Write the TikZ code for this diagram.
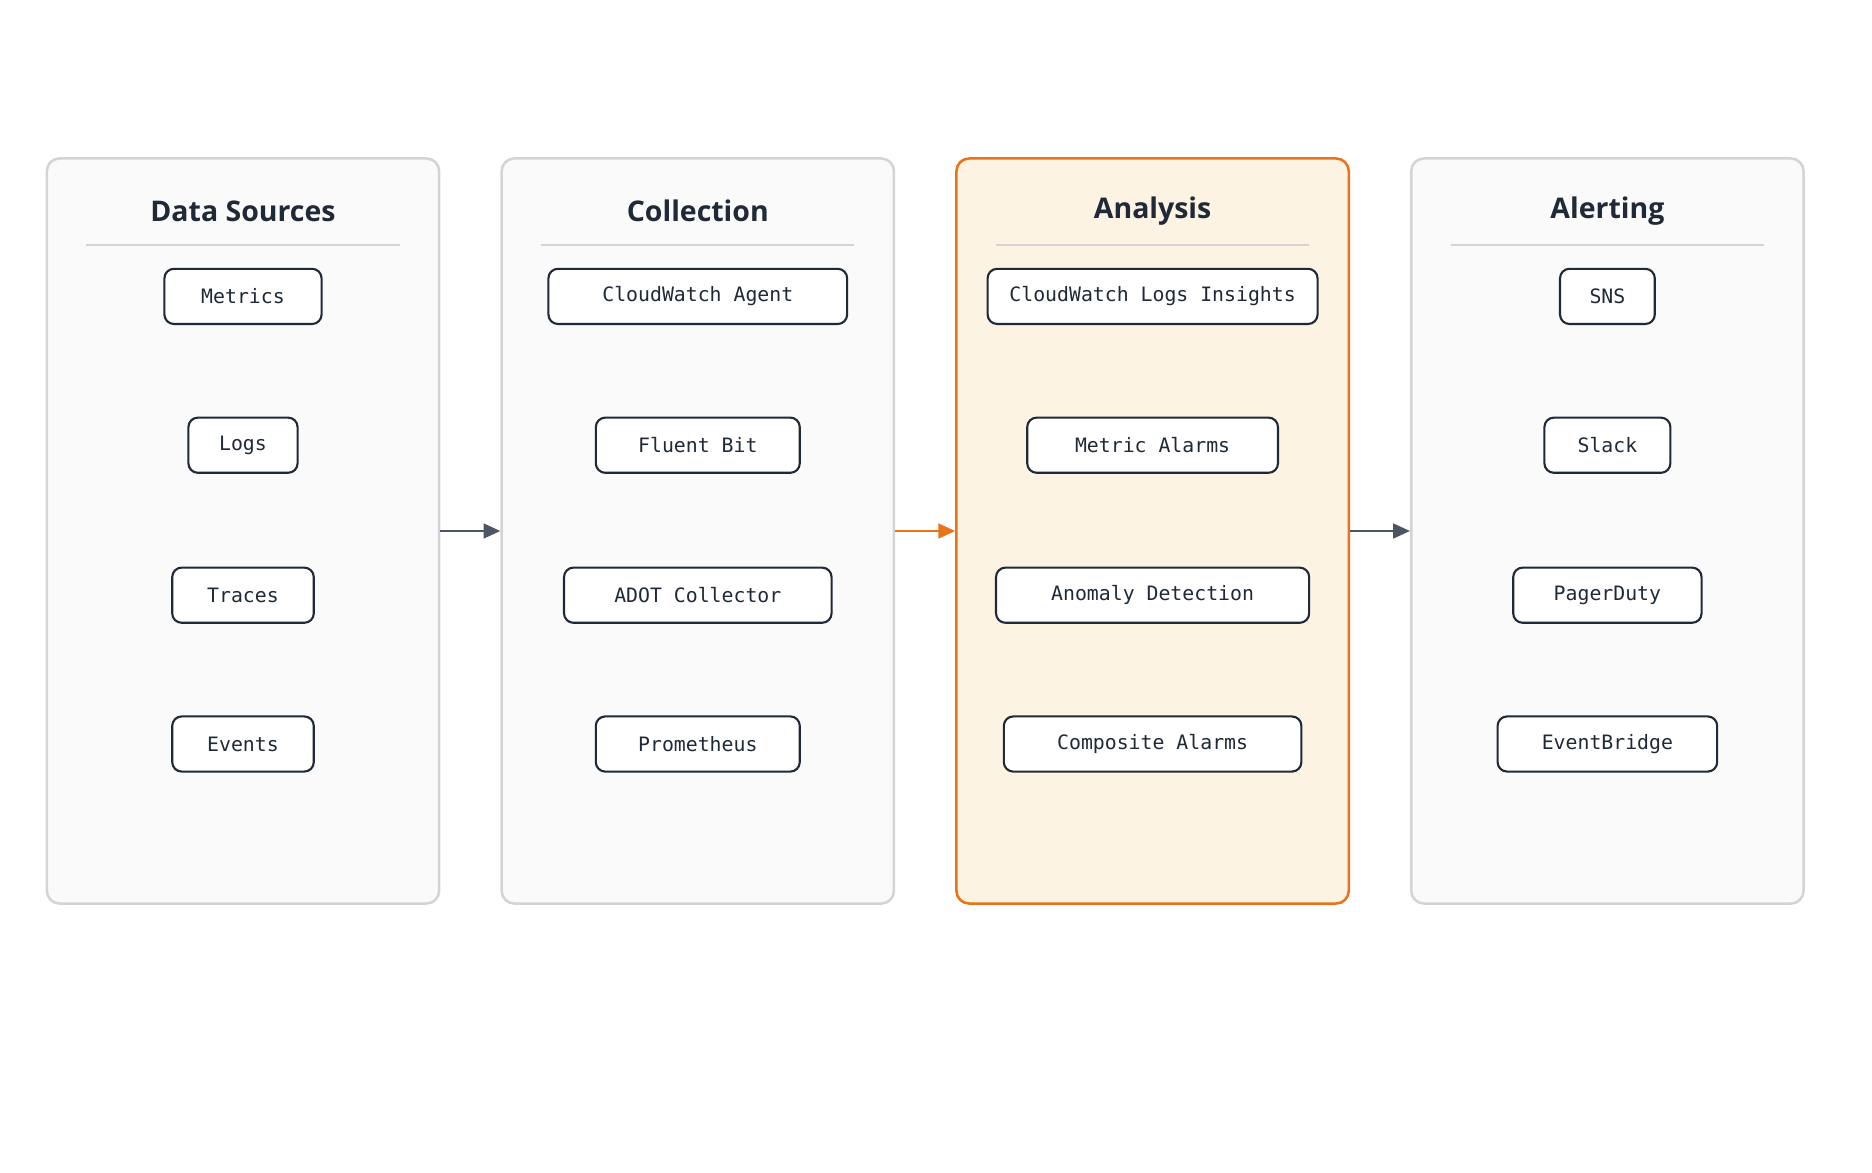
\documentclass[tikz,border=0pt]{standalone}
\usepackage{fontspec}
\setmainfont{Open Sans}
\newfontfamily\boxfont{DejaVu Sans Mono}
\usetikzlibrary{arrows.meta, positioning}
\definecolor{inkdark}{HTML}{1F2937}
\definecolor{panelfill}{HTML}{FAFAFA}
\definecolor{paneledge}{HTML}{D4D4D4}
\definecolor{hotfill}{HTML}{FDF3E3}
\definecolor{hotedge}{HTML}{E8731A}
\definecolor{flowgrey}{HTML}{4B5563}
\begin{document}
\begin{tikzpicture}[
      x=0.02cm, y=-0.02cm,
      panel/.style={draw=paneledge,line width=1.2pt,fill=panelfill,rounded corners=6pt,
        minimum width=6.54cm,minimum height=12.42cm,inner sep=0pt},
      hot panel/.style={panel,draw=hotedge,fill=hotfill},
      title/.style={font=\bfseries\fontsize{13.5}{16}\selectfont,text=inkdark},
      rule/.style={paneledge,line width=0.8pt},
      item/.style={draw=inkdark,line width=1pt,fill=white,rounded corners=4.5pt,
        minimum height=0.92cm,inner sep=0pt,text=inkdark,font=\boxfont\fontsize{9.4}{11}\selectfont},
      flow/.style={-{Triangle[length=8pt,width=7pt]},line width=1.2pt,flowgrey},
      hot flow/.style={flow,hotedge}
      ]
      \useasboundingbox (0,0) rectangle (1560,977);
      % panels
      \node [panel] (sources) at (202.5,442.5) {};
      \node [panel] (collect) at (581.5,442.5) {};
      \node [hot panel] (analysis) at (960.5,442.5) {};
      \node [panel] (alerting) at (1339.5,442.5) {};
      % titles and rules
      \foreach \p/\t/\x in {sources/Data Sources/202.5,collect/Collection/581.5,
          analysis/Analysis/960.5,alerting/Alerting/1339.5} {
          \node [title] (\p-title) at (\x,176) {\t};
          \draw [rule] (\x-130.5,204) -- (\x+130.5,204);
      }
      % sources
      \node [item,minimum width=2.62cm] (metrics) at (202.5,247) {Metrics};
      \node [item,minimum width=1.82cm] (logs) at (202.5,371) {Logs};
      \node [item,minimum width=2.36cm] (traces) at (202.5,496) {Traces};
      \node [item,minimum width=2.36cm] (events) at (202.5,620) {Events};
      % collection
      \node [item,minimum width=4.98cm] (cwagent) at (581.5,247) {CloudWatch Agent};
      \node [item,minimum width=3.40cm] (fluentbit) at (581.5,371) {Fluent Bit};
      \node [item,minimum width=4.46cm] (adot) at (581.5,496) {ADOT Collector};
      \node [item,minimum width=3.40cm] (prom) at (581.5,620) {Prometheus};
      % analysis
      \node [item,minimum width=5.50cm] (insights) at (960.5,247) {CloudWatch Logs Insights};
      \node [item,minimum width=4.18cm] (metricalarms) at (960.5,371) {Metric Alarms};
      \node [item,minimum width=5.22cm] (anomaly) at (960.5,496) {Anomaly Detection};
      \node [item,minimum width=4.96cm] (composite) at (960.5,620) {Composite Alarms};
      % alerting
      \node [item,minimum width=1.58cm] (sns) at (1339.5,247) {SNS};
      \node [item,minimum width=2.10cm] (slack) at (1339.5,371) {Slack};
      \node [item,minimum width=3.14cm] (pagerduty) at (1339.5,496) {PagerDuty};
      \node [item,minimum width=3.66cm] (eventbridge) at (1339.5,620) {EventBridge};
      % flow
      \draw [flow] (sources.east) -- (collect.west);
      \draw [hot flow] (collect.east) -- (analysis.west);
      \draw [flow] (analysis.east) -- (alerting.west);
\end{tikzpicture}
\end{document}
